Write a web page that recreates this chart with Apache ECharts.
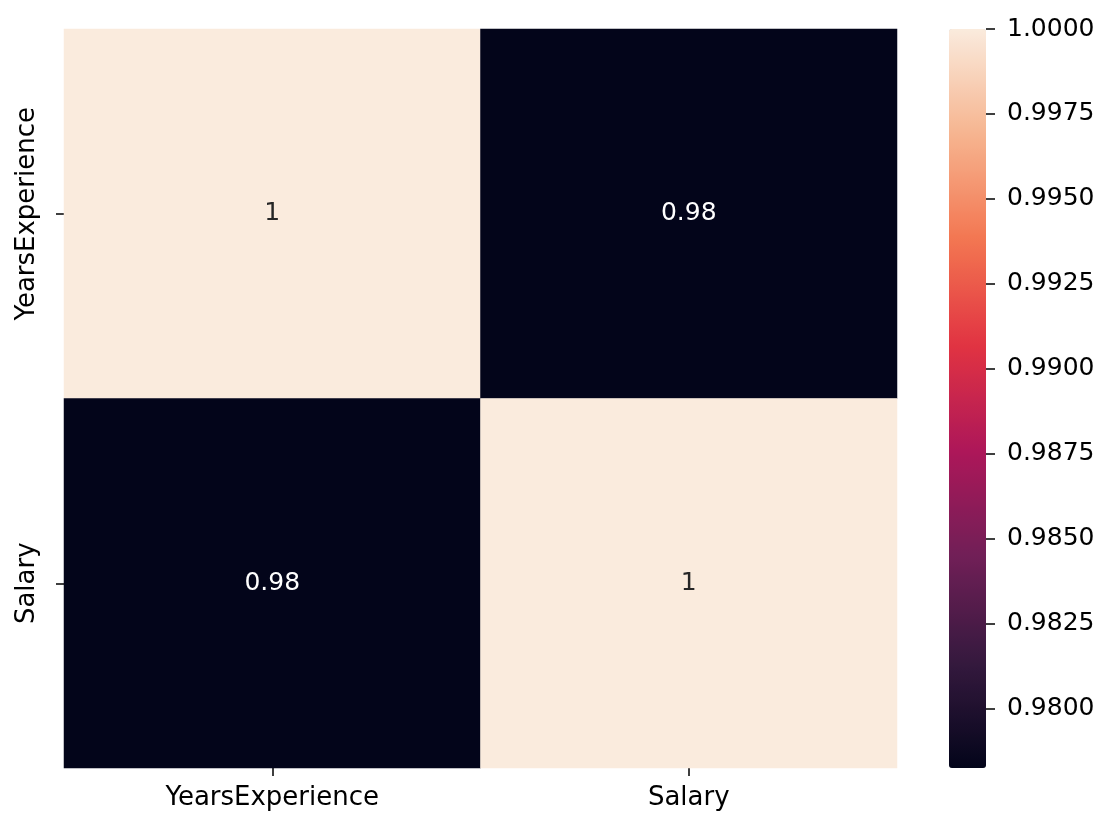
<!DOCTYPE html>
<html>
<head>
<meta charset="utf-8">
<script src="https://cdn.jsdelivr.net/npm/echarts@6/dist/echarts.min.js"></script>
<style>
  html, body { margin: 0; padding: 0; background: #fff; }
  #chart { width: 1117px; height: 832px; }
</style>
</head>
<body>
<div id="chart"></div>
<script>
var columns = ['YearsExperience', 'Salary'];
var rows = ['YearsExperience', 'Salary'];
var corr = [
  [1, 0.978242],
  [0.978242, 1]
];
var cbTicks = [0.98, 0.9825, 0.985, 0.9875, 0.99, 0.9925, 0.995, 0.9975, 1.0];
var cbMin = 0.978242;
var cbMax = 1.0;
// seaborn "rocket" colormap samples
var rocket = ['#03051a', '#35193e', '#701f57', '#ad1759', '#e13342', '#f37651', '#f6b48f', '#faebdd'];

var font = 'DejaVu Sans';
var mid = (cbMin + cbMax) / 2;

var cells = [];
rows.forEach(function(r, i) {
  columns.forEach(function(c, j) {
    var v = corr[i][j];
    cells.push({
      value: [j, i, v],
      label: { color: v > mid ? '#262626' : '#ffffff' }
    });
  });
});

var chart = echarts.init(document.getElementById('chart'));
chart.setOption({
  backgroundColor: '#ffffff',
  animation: false,
  grid: [
    { left: 64, top: 29, width: 833, height: 739 },
    // thin strip along the right edge of the colour bar, carries its tick axis
    { left: 986, top: 29, width: 1, height: 739 }
  ],
  xAxis: [{
    type: 'category',
    data: columns,
    gridIndex: 0,
    position: 'bottom',
    axisLine: { show: false },
    axisTick: { show: true, alignWithLabel: true, length: 8, lineStyle: { color: '#000', width: 1.5 } },
    axisLabel: { fontFamily: font, fontSize: 26, color: '#000', margin: 17 },
    splitLine: { show: false }
  }, {
    type: 'value',
    gridIndex: 1,
    show: false
  }],
  yAxis: [{
    type: 'category',
    data: rows,
    inverse: true,
    gridIndex: 0,
    axisLine: { show: false },
    axisTick: { show: true, alignWithLabel: true, length: 8, lineStyle: { color: '#000', width: 1.5 } },
    axisLabel: { fontFamily: font, fontSize: 26, color: '#000', rotate: 90, margin: 24, verticalAlign: 'bottom', align: 'center' },
    splitLine: { show: false }
  }, {
    type: 'value',
    gridIndex: 1,
    position: 'right',
    min: cbMin,
    max: cbMax,
    z: 10,
    axisLine: { show: false },
    splitLine: { show: false },
    axisTick: { show: true, inside: false, length: 9, customValues: cbTicks, lineStyle: { color: '#000', width: 1.5 } },
    axisLabel: {
      customValues: cbTicks,
      fontFamily: font, fontSize: 25, color: '#000', margin: 20,
      formatter: function(v) { return v.toFixed(4); }
    }
  }],
  visualMap: {
    type: 'continuous',
    min: cbMin,
    max: cbMax,
    seriesIndex: 0,
    calculable: false,
    hoverLink: false,
    showLabel: false,
    text: null,
    orient: 'vertical',
    left: 949,
    top: 29,
    padding: 0,
    itemWidth: 37,
    itemHeight: 739,
    inRange: { color: rocket }
  },
  series: [{
    type: 'heatmap',
    xAxisIndex: 0,
    yAxisIndex: 0,
    data: cells,
    label: {
      show: true,
      fontFamily: font,
      fontSize: 25,
      formatter: function(p) { return String(Number(p.value[2].toPrecision(2))); }
    },
    itemStyle: { borderWidth: 0 },
    emphasis: { disabled: true }
  }]
});
</script>
</body>
</html>
